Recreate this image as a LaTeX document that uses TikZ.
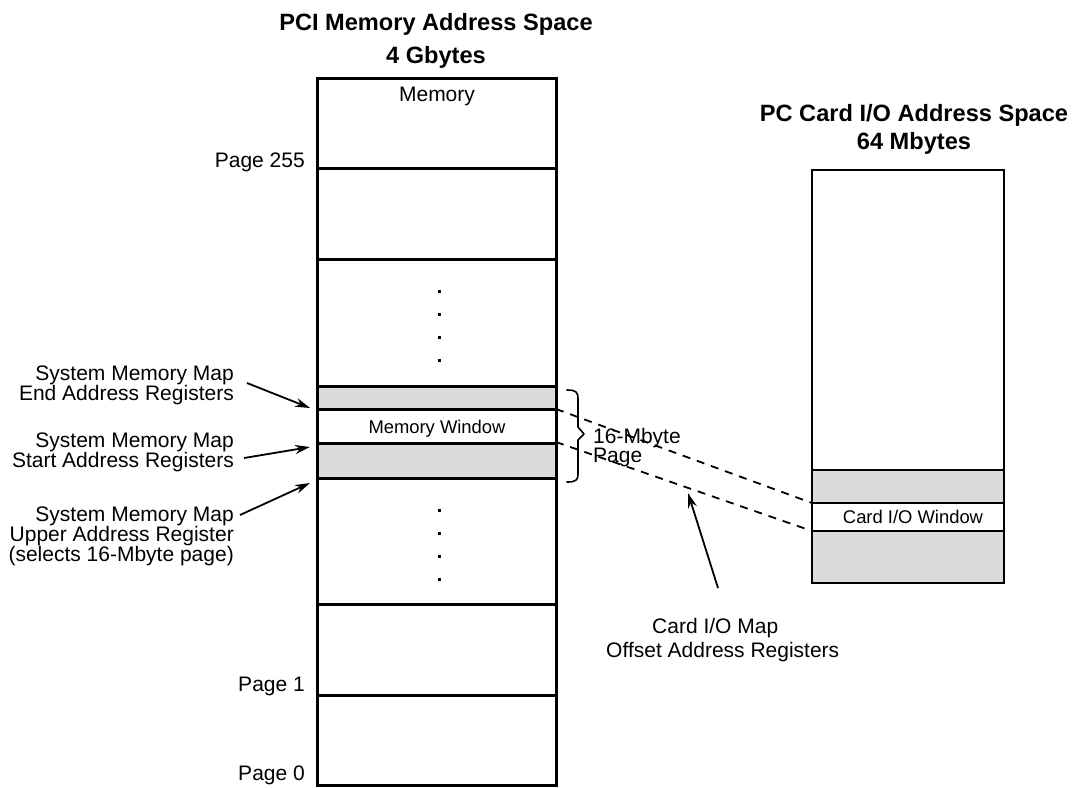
\documentclass[tikz,border=0pt]{standalone}
\usepackage{fontspec}
\setmainfont{Liberation Sans}
\usetikzlibrary{arrows.meta}

\tikzset{
  lbl/.style={inner sep=0pt, font=\fontsize{21}{20}\selectfont},
  winlbl/.style={inner sep=0pt, font=\fontsize{18.4}{20}\selectfont},
  ttl/.style={inner sep=0pt, font=\fontsize{23.6}{26}\selectfont\bfseries},
  col/.style={draw=black, line width=3pt},
  colr/.style={draw=black, line width=2pt},
  shade/.style={fill=black!14},
  ptr/.style={line width=1.8pt, -{Stealth[length=15pt,width=9pt]}},
  mapline/.style={line width=1.8pt, dash pattern=on 8pt off 7pt},
  dotmark/.style={fill=black, minimum size=3pt, inner sep=0pt, draw=none},
  bracket/.style={line width=1.6pt, line join=round, line cap=round},
}

\begin{document}
\begin{tikzpicture}[x=1pt,y=-1pt]
\useasboundingbox (0,0) rectangle (1075,787);

% ---------- PCI memory address space column ----------
\fill[shade] (317,386) rectangle (556,409);
\fill[shade] (317,443) rectangle (556,478);
\foreach \yy in {168,259,386,409,443,478,604,695}
  \draw[col] (317,\yy) -- (556,\yy);
\draw[col] (317,78) rectangle (556,785);

\node[ttl, anchor=base] (pcititle) at (436,30) {PCI Memory Address Space};
\node[ttl, anchor=base] (pcisize) at (436,63) {4 Gbytes};

\node[lbl, anchor=base] (memtop) at (437,101) {Memory};
\node[winlbl, anchor=base] (memwin) at (437,433) {Memory Window};

\node[lbl, anchor=base east] (p255) at (305,167) {Page 255};
\node[lbl, anchor=base east] (p1) at (305,691) {Page 1};
\node[lbl, anchor=base east] (p0) at (305,780) {Page 0};

% ellipsis dots
\foreach \yy [count=\i] in {291,314,337,360}
  \node[dotmark] (dotu\i) at (439,\yy) {};
\foreach \yy [count=\i] in {510,533,556,579}
  \node[dotmark] (dotl\i) at (439,\yy) {};

% ---------- PC Card I/O address space column ----------
\fill[shade] (812,470) rectangle (1004,503);
\fill[shade] (812,531) rectangle (1004,583);
\foreach \yy in {470,503,531}
  \draw[colr] (812,\yy) -- (1004,\yy);
\draw[colr] (812,170) rectangle (1004,583);

\node[ttl, anchor=base] (cardtitle) at (914,121) {PC Card I/O Address Space};
\node[ttl, anchor=base] (cardsize) at (914,149) {64 Mbytes};

\node[winlbl, anchor=base] (cardwin) at (913,523) {Card I/O Window};

% ---------- window mapping ----------
\coordinate (mwtop) at (556,409);
\coordinate (mwbot) at (556,442);
\coordinate (cwtop) at (812,503);
\coordinate (cwbot) at (812,531);
\draw[mapline] (mwtop) -- (cwtop);
\draw[mapline] (mwbot) -- (cwbot);

% 16-Mbyte page bracket
\coordinate (brtop) at (567,390);
\coordinate (brbot) at (567,482);
\coordinate (brtip) at (584,434);
\draw[bracket] (brtop) .. controls (576,390) and (578,392) .. (578,399)
  -- (578,427) -- (brtip) -- (578,440) -- (578,474)
  .. controls (578,480) and (576,482) .. (brbot);
\node[lbl, anchor=base west] (pg16) at (593,443) {16-Mbyte};
\node[lbl, anchor=base west] (pgword) at (593,462) {Page};

% ---------- register labels ----------
\node[lbl, anchor=base east, align=right] (endreg) at (234,400)
  {System Memory Map\\End Address Registers};
\node[lbl, anchor=base east, align=right] (startreg) at (234,467)
  {System Memory Map\\Start Address Registers};
\node[lbl, anchor=base east, align=right] (upperreg) at (234,561)
  {System Memory Map\\Upper Address Register\\(selects 16-Mbyte page)};

\coordinate (endtail) at (247,383);
\coordinate (endhead) at (310,408);
\coordinate (starttail) at (244,458);
\coordinate (starthead) at (310,447);
\coordinate (uppertail) at (240,515);
\coordinate (upperhead) at (310,483);
\draw[ptr] (endtail) -- (endhead);
\draw[ptr] (starttail) -- (starthead);
\draw[ptr] (uppertail) -- (upperhead);

\node[lbl, anchor=base west] (offmap) at (652,633) {Card I/O Map};
\node[lbl, anchor=base west] (offreg) at (606,657) {Offset Address Registers};
\coordinate (offtail) at (718,588);
\coordinate (offhead) at (688,493);
\draw[ptr] (offtail) -- (offhead);
\end{tikzpicture}
\end{document}
